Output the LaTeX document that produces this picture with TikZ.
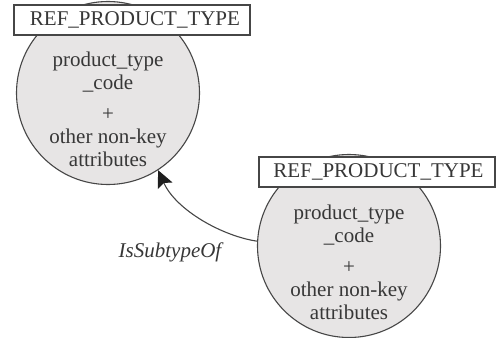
\documentclass[tikz,border=0pt]{standalone}
\usepackage{fontspec}
\setmainfont{Liberation Serif}
\usetikzlibrary{arrows.meta}
\definecolor{inkline}{RGB}{70,70,70}
\definecolor{inktext}{RGB}{55,55,55}
\definecolor{inktip}{RGB}{30,30,30}
\definecolor{entityfill}{RGB}{231,229,229}
\begin{document}
\begin{tikzpicture}[x=1pt,y=-1pt,
  font=\fontsize{21}{23}\selectfont,
  entity/.style={circle, draw=inkline, fill=entityfill, line width=1.1pt,
    minimum size=183pt, inner sep=0pt},
  attrs/.style={align=center, text=inktext, inner sep=0pt},
  tablename/.style={rectangle, draw=inkline, fill=white, line width=1.1pt,
    minimum width=236pt, minimum height=30pt, inner sep=0pt, text=inktext},
  relation/.style={draw=inkline, line width=1.1pt,
    -{Stealth[length=17pt,width=16pt,inset=3pt,color=inktip,fill=inktip]}},
  rolename/.style={font=\fontsize{21}{23}\selectfont\itshape, text=inktext,
    inner sep=0pt}]
\useasboundingbox (0,0) rectangle (500,337);

% supertype entity
\node[entity] (c1) at (108,93) {};
\node[attrs] (t1) at (108,109.5)
  {product\_type\\\_code\\[8pt]+\\other non-key\\attributes};
\node[tablename] (b1) at (132,20) {\hspace*{6pt}REF\_PRODUCT\_TYPE};

% subtype entity
\node[entity] (c2) at (349,246) {};
\node[attrs] (t2) at (349,262.5)
  {product\_type\\\_code\\[8pt]+\\other non-key\\attributes};
\node[tablename] (b2) at (377,172) {\hspace*{3pt}REF\_PRODUCT\_TYPE};

% recursive relationship
\draw[relation] (c2.177) .. controls (222,236) and (176,210) .. (c1.-57);
\node[rolename] (r1) at (170,252) {IsSubtypeOf};
\end{tikzpicture}
\end{document}
